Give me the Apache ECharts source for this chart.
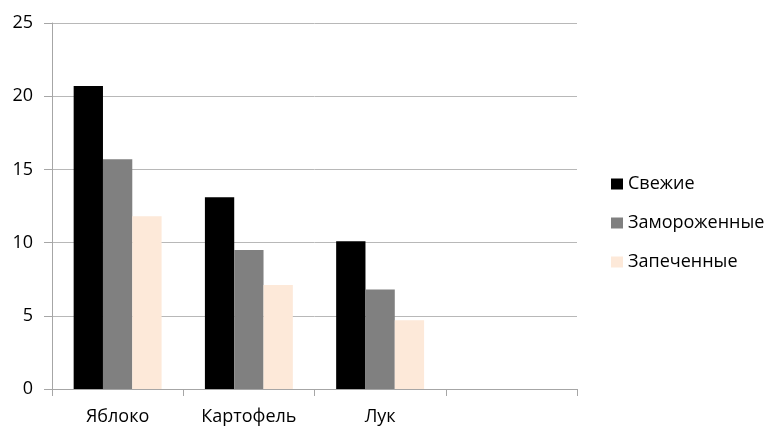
<!DOCTYPE html>
<html>
<head>
<meta charset="utf-8">
<script src="https://cdn.jsdelivr.net/npm/echarts@6/dist/echarts.min.js"></script>
<style>
  html, body { margin: 0; padding: 0; background: #fff; }
  #chart { width: 771px; height: 426px; }
</style>
</head>
<body>
<div id="chart"></div>
<script>
// categories (last one is empty in the original)
var categories = ['Яблоко', 'Картофель', 'Лук', '']
var seriesNames = ['Свежие', 'Замороженные', 'Запеченные']
var fresh = [20.7, 13.1, 10.1, '-']
var frozen = [15.7, 9.5, 6.8, '-']
var baked = [11.8, 7.1, 4.7, '-']
var colors = ['#000000', '#808080', '#fde9d9']

var font = '"Open Sans", "Noto Sans", sans-serif'
var myChart = echarts.init(document.getElementById('chart'))

myChart.setOption({
    animation: false,
    textStyle: { fontFamily: font },
    legend: {
        orient: 'vertical',
        left: 606,
        top: 170,
        padding: 5,
        itemWidth: 12,
        itemHeight: 11,
        itemGap: 21,
        icon: 'rect',
        data: seriesNames,
        textStyle: { fontSize: 18, color: '#000', fontFamily: font }
    },
    grid: {
        left: 52,
        right: 194,
        top: 23,
        bottom: 36,
        containLabel: false
    },
    xAxis: {
        type: 'category',
        data: categories,
        axisLine: { lineStyle: { color: '#a6a6a6', width: 1 } },
        axisTick: { show: true, length: 7, lineStyle: { color: '#a6a6a6' } },
        axisLabel: { color: '#000', fontSize: 18, margin: 19, fontFamily: font }
    },
    yAxis: {
        type: 'value',
        min: 0,
        max: 25,
        interval: 5,
        axisLine: { show: true, lineStyle: { color: '#a6a6a6', width: 1 } },
        axisTick: { show: true, length: 8, lineStyle: { color: '#a6a6a6' } },
        axisLabel: { color: '#000', fontSize: 18, margin: 19, fontFamily: font },
        splitLine: { lineStyle: { color: '#b8b8b8', width: 1 } }
    },
    series: [fresh, frozen, baked].map((values, i) => ({
        name: seriesNames[i],
        type: 'bar',
        data: values,
        barGap: '0%',
        barCategoryGap: '33%',
        itemStyle: { color: colors[i] }
    }))
})
</script>
</body>
</html>
